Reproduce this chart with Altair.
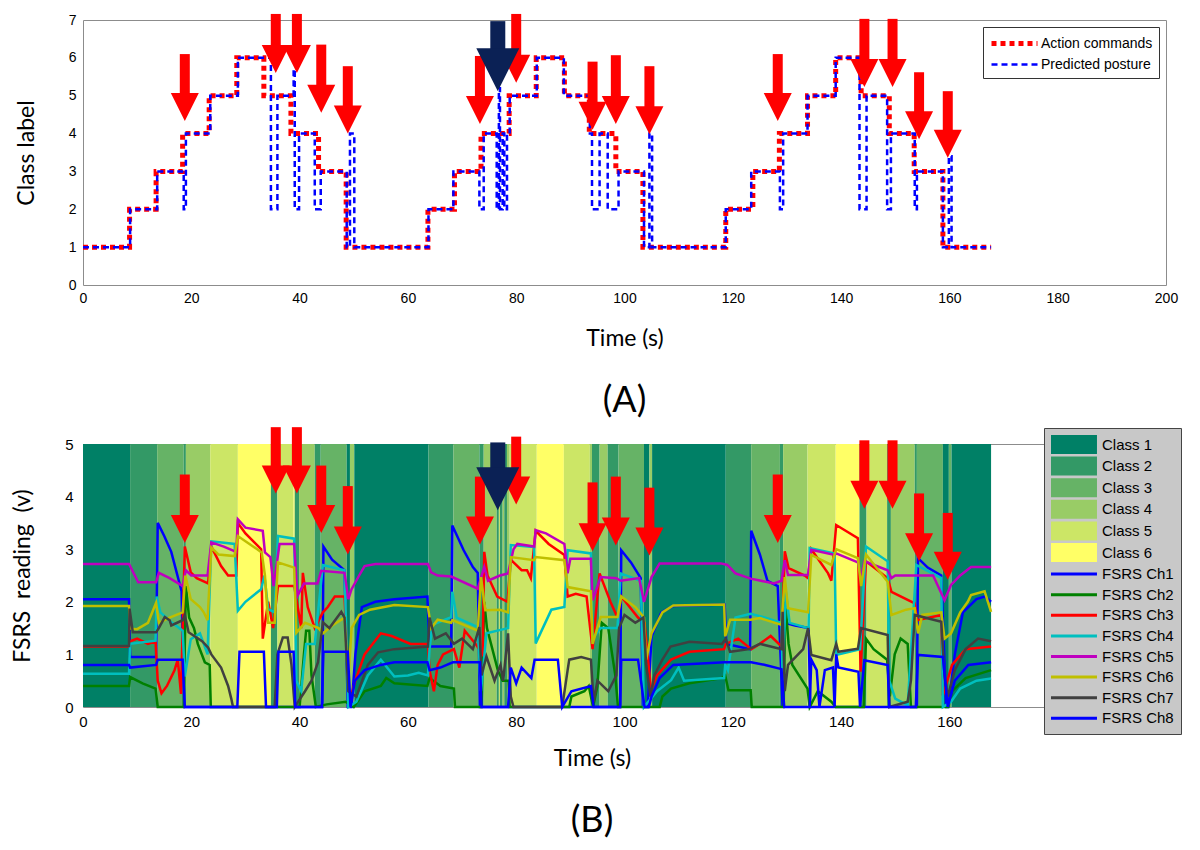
import altair as alt
import pandas as pd

# ---------------- data ----------------
# (A) action commands (step-after)
cmd_t = [0, 8.6, 13.5, 18.4, 23.3, 28.4, 33.4, 38.4, 43.5, 48.6, 63.7, 68.6, 73.5, 78.7, 83.7,
         88.9, 93.5, 98.4, 103.4, 118.7, 123.7, 128.6, 133.8, 139.0, 143.7, 148.9, 153.5, 158.8, 167.7]
cmd_v = [1, 2, 3, 4, 5, 6, 5, 4, 3, 1, 2, 3, 4, 5, 6, 5, 4, 3, 1, 2, 3, 4, 5, 6, 5, 4, 3, 1, 1]

# (A) predicted posture (step-after)
pred_t = [0, 8.7, 13.7, 18.6, 19.0, 23.5, 28.6, 34.7, 35.9, 38.9, 39.1, 39.9, 42.8, 43.9, 48.7, 49.3,
          50.1, 63.8, 68.4, 73.2, 74.0, 76.4, 76.8, 77.0, 77.5, 77.8, 78.3, 78.8, 83.8, 88.8, 93.6,
          94.0, 95.4, 96.9, 98.9, 103.6, 104.6, 105.1, 118.7, 123.4, 128.7, 129.3, 133.8, 139.0,
          143.4, 144.7, 148.5, 149.2, 153.6, 154.0, 158.8, 159.9, 160.4, 167.7]
pred_v = [1, 2, 3, 2, 4, 5, 6, 2, 5, 5.7, 2, 4, 2, 3, 1, 4,
          1, 2, 3, 2, 4, 2, 5.2, 2, 4, 2, 4, 5, 6, 5, 4,
          2, 4, 2, 3, 1, 4, 1, 2, 3, 2, 4, 5, 6,
          2, 5, 2, 4, 2, 3, 1, 3.4, 1, 1]

# arrows (time, tip and top in each panel's units)
arrow_t = [18.8, 35.6, 39.5, 44.0, 48.9, 73.3, 80.0, 94.1, 98.4, 104.6, 128.3, 144.3, 149.5, 154.4, 159.7]
arrow_tipA = [4.33, 5.6, 5.6, 4.55, 4.0, 4.25, 5.34, 4.1, 4.25, 3.98, 4.33, 5.23, 5.23, 3.85, 3.36]
arrow_topA = [6.1, 7.16, 7.16, 6.35, 5.78, 6.05, 7.16, 5.9, 6.07, 5.78, 6.1, 7.03, 7.03, 5.62, 5.12]
arrow_tipB = [3.12, 4.06, 4.06, 3.31, 2.9, 3.09, 3.85, 2.96, 3.07, 2.88, 3.12, 3.77, 3.77, 2.77, 2.42]
arrow_topB = [4.42, 5.32, 5.32, 4.59, 4.2, 4.38, 5.14, 4.27, 4.38, 4.17, 4.42, 5.07, 5.07, 4.06, 3.69]
navy_t = [76.6]
navy_tipA = [5.12]
navy_topA = [6.97]
navy_tipB = [3.74]
navy_topB = [5.03]

classes = ["Class 1", "Class 2", "Class 3", "Class 4", "Class 5", "Class 6"]
class_colors = ["#008066", "#339966", "#66B366", "#99CC66", "#CCE666", "#FFFF66"]
channels = ["FSRS Ch1", "FSRS Ch2", "FSRS Ch3", "FSRS Ch4", "FSRS Ch5", "FSRS Ch6", "FSRS Ch7", "FSRS Ch8"]
channel_colors = ["#0000FF", "#008000", "#FF0000", "#00BFBF", "#BF00BF", "#BFBF00", "#404040", "#0000FF"]

ch1 = [(0, 2.05), (8.5, 2.05), (8.7, 0.95), (13.5, 0.95), (13.8, 3.5), (15.0, 3.25), (16.3, 2.95), (18.2, 2.2),
       (18.7, 0.0), (44.2, 0.0), (44.4, 3.05), (46.0, 2.8), (48.3, 2.6), (48.9, 0.0), (49.6, 0.0), (50.3, 1.0),
       (51.5, 1.9), (54.0, 2.0), (57.5, 2.05), (63.6, 2.1), (64.0, 1.15), (68.0, 1.15), (68.2, 3.45), (70.3, 2.98),
       (72.0, 2.66), (72.9, 2.55), (73.3, 0.0), (99.2, 0.0), (99.4, 2.98), (101.2, 2.75), (103.0, 2.45),
       (103.4, 0.0), (104.3, 0.0), (105.0, 1.34), (106.8, 1.8), (109.0, 1.92), (118.5, 1.95), (118.8, 1.2),
       (123.2, 1.1), (123.4, 3.35), (125.0, 2.9), (126.4, 2.4), (128.3, 2.3), (129.2, 0.0), (129.6, 1.6),
       (131.5, 1.55), (134.0, 1.5), (134.3, 0.0), (154.0, 0.0), (154.2, 2.83), (156.0, 2.65), (158.5, 2.5),
       (159.4, 0.0), (159.8, 0.0), (161.0, 1.0), (162.5, 1.8), (165.0, 2.05), (166.5, 2.1), (167.7, 2.0)]
ch2 = [(0, 0.4), (8.5, 0.4), (8.7, 0.57), (11, 0.45), (13.4, 0.35), (13.8, 0), (18.6, 0), (19.0, 2.3), (19.6, 1.7),
       (20.5, 1.5), (21.2, 1.2), (22.5, 0.85), (23.4, 0.8), (23.6, 0), (40.0, 0), (40.8, 1.0), (41.2, 1.45),
       (41.8, 1.45), (42.2, 0.6), (43.0, 0), (45, 0.05), (48.5, 0.1), (50, 0), (52, 0.3), (55, 0.4), (56, 0.55),
       (57.5, 0.45), (63.6, 0.4), (64, 0.55), (66, 0.4), (68.5, 0.35), (68.7, 0), (73.6, 0), (74.1, 2.0),
       (74.6, 1.5), (76.6, 0.7), (77.5, 0.5), (78.6, 0.5), (78.8, 0), (89.8, 0), (90.2, 0.2), (92.6, 0.3),
       (93.4, 0.4), (94.2, 0), (95.0, 0.4), (95.8, 1.6), (97.0, 1.5), (98.3, 0.6), (98.8, 0), (106.5, 0),
       (107, 0.2), (108.6, 0.35), (112, 0.45), (118, 0.55), (118.6, 0.6), (119.2, 0.32), (123.3, 0.32),
       (123.5, 0), (129.4, 0), (129.7, 2.0), (130.3, 1.2), (131, 0.8), (133.8, 0.35), (134.2, 0), (135.7, 0.3),
       (138.2, 0.1), (139, 0), (144.2, 0), (144.6, 1.3), (146, 1.1), (148.5, 0.9), (149.0, 0.2), (149.9, 1.0),
       (151, 1.3), (152.3, 1.2), (152.9, 0), (159.8, 0), (160.5, 0.3), (163, 0.55), (167.7, 0.7)]
ch3 = [(0, 1.15), (8.5, 1.15), (8.7, 1.25), (10, 1.3), (12, 1.2), (13.4, 1.25), (13.8, 0.5), (14.5, 0.26),
       (15.5, 0.4), (16.9, 0.7), (17.5, 0.9), (18.1, 0.25), (18.8, 3.05), (19.9, 2.56), (21, 2.45), (23.1, 2.35),
       (23.7, 3.05), (25.5, 2.68), (26.8, 2.5), (28.3, 2.5), (28.6, 3.5), (30, 3.3), (32.9, 3.0), (33.2, 1.3),
       (34.2, 2.0), (35.1, 1.5), (36, 2.3), (39, 2.3), (39.5, 2.0), (40.3, 1.5), (40.6, 2.55), (41.5, 1.9),
       (42.8, 1.5), (44.3, 1.8), (45.2, 1.9), (46.5, 2.1), (48.3, 2.1), (49.2, 0.1), (50.3, 0.5), (52, 1.0),
       (55, 1.4), (57, 1.35), (60.5, 1.2), (63.7, 1.2), (64, 0.7), (64.8, 0.3), (65.5, 0.8), (66.5, 1.0),
       (68.5, 1.1), (69.5, 0.75), (70.5, 1.45), (72.5, 1.2), (73.8, 1.0), (74.1, 2.95), (74.7, 2.5), (76.5, 2.1),
       (78.4, 2.0), (79.0, 2.8), (81, 2.6), (82, 2.6), (82.7, 2.45), (83.6, 3.35), (86, 3.1), (88.9, 2.89),
       (89.5, 2.1), (91, 2.15), (93, 2.1), (94.1, 1.1), (95.4, 2.54), (97.4, 2.0), (98.7, 1.7), (99.4, 2.1),
       (102.5, 1.7), (103.7, 1.6), (104.9, 0.32), (106, 0.6), (108.6, 0.9), (112, 1.05), (118.4, 1.1),
       (118.7, 1.2), (121, 1.3), (123.4, 1.1), (125, 1.2), (127, 1.35), (129.0, 1.15), (129.6, 2.96),
       (130.3, 2.64), (133.3, 2.5), (133.9, 2.45), (134.5, 3.0), (137.6, 2.54), (138.2, 2.4), (139.1, 3.46),
       (143.1, 3.21), (143.6, 0.67), (144.6, 2.77), (148.6, 2.45), (149.3, 2.19), (153.6, 1.97), (154.0, 1.65),
       (158.5, 1.75), (158.8, 0.22), (160.5, 0.8), (163, 1.1), (167.7, 1.15)]
ch4 = [(0, 0.63), (8.5, 0.63), (8.7, 1.2), (13.4, 1.26), (13.6, 2.1), (14.3, 1.8), (16.5, 1.6), (18.4, 1.45),
       (18.8, 0.58), (19.9, 1.29), (21.6, 1.4), (23.0, 1.0), (23.7, 3.15), (28.0, 3.1), (28.6, 1.83), (30, 2.0),
       (32.9, 2.24), (33.5, 2.5), (34.2, 1.86), (35.4, 1.8), (36.0, 3.25), (39.0, 3.2), (39.4, 0.5), (40.3, 0.3),
       (41.2, 1.2), (42.8, 1.2), (44.3, 2.7), (48.3, 2.6), (49.0, 0.0), (50.5, 0.1), (52.6, 0.6), (55, 0.9),
       (57.5, 0.58), (60, 0.6), (62, 0.65), (63.7, 0.6), (64.0, 1.1), (64.5, 1.56), (68.0, 1.71), (68.2, 2.19),
       (69, 1.7), (72.9, 1.52), (73.5, 0.3), (74.5, 1.4), (78.5, 1.5), (79.0, 3.08), (83.3, 3.04), (83.6, 1.21),
       (86.5, 1.85), (88.9, 1.9), (89.5, 2.98), (93.8, 2.92), (94.1, 1.3), (95.6, 1.5), (98.7, 1.5), (99.3, 2.54),
       (103.0, 2.4), (103.6, 0.0), (106, 0.3), (108.6, 0.51), (110, 0.75), (111, 0.5), (118.4, 0.55),
       (118.6, 0.8), (119.1, 0.7), (120.5, 1.7), (123.3, 1.77), (126, 1.7), (129, 1.6), (129.2, 0.5),
       (129.8, 2.2), (130.5, 1.6), (134, 1.5), (134.2, 3.02), (138.8, 2.92), (139.1, 0.99), (143.5, 1.1),
       (144.6, 3.05), (148.6, 2.77), (148.9, 0.5), (150, 0.16), (152.3, 0.03), (153.9, 2.7), (158.5, 2.45),
       (158.8, 0.0), (160.3, 0.1), (162, 0.35), (165, 0.5), (167.7, 0.54)]
ch5 = [(0, 2.72), (8.5, 2.72), (10.2, 2.37), (13.5, 2.37), (14, 2.55), (16, 2.45), (18.4, 2.3), (19.0, 2.6),
       (20, 2.5), (23, 2.5), (23.7, 3.13), (26, 3.05), (28.3, 2.95), (28.6, 3.57), (30, 3.41), (33.2, 3.35),
       (33.6, 2.94), (34.6, 2.85), (35.2, 2.3), (36.3, 3.1), (39.0, 3.1), (39.6, 2.11), (40.8, 2.35),
       (43.3, 2.35), (44.0, 2.59), (48.3, 2.55), (49.0, 2.05), (49.6, 2.24), (51, 2.5), (52, 2.68), (54, 2.72),
       (63.7, 2.72), (64.3, 2.56), (65.5, 2.5), (68, 2.48), (72.9, 2.25), (74.1, 2.66), (74.8, 2.4), (77, 2.5),
       (78.5, 2.54), (79.5, 3.0), (80.2, 3.1), (83.3, 3.05), (83.6, 3.36), (85.5, 3.3), (88.9, 3.1),
       (89.5, 2.54), (90, 2.82), (93.8, 2.82), (94.1, 2.03), (95.6, 2.47), (98.5, 2.45), (99.3, 2.4),
       (102.7, 2.45), (103.6, 2.0), (105, 2.47), (106.5, 2.73), (117.8, 2.73), (119, 2.7), (120.5, 2.54),
       (123.3, 2.44), (127.6, 2.35), (129.0, 2.4), (129.6, 2.79), (130.2, 2.51), (133.9, 2.51), (134.5, 2.99),
       (138.8, 2.89), (139.1, 2.92), (143.1, 2.75), (143.7, 2.45), (144.3, 2.77), (148.6, 2.6), (149.3, 2.45),
       (150, 2.5), (157, 2.5), (159.1, 2.03), (160.3, 2.32), (162, 2.5), (164, 2.66), (167.7, 2.66)]
ch6 = [(0, 1.92), (8.5, 1.92), (8.7, 1.49), (10, 1.48), (12, 1.6), (13.5, 1.98), (14, 1.6), (16, 1.7),
       (18.4, 1.8), (18.9, 2.5), (19.9, 2.05), (21.6, 1.9), (22.3, 1.8), (23.0, 1.65), (23.7, 3.03), (25, 2.9),
       (28.0, 2.87), (28.6, 3.25), (33.0, 2.94), (33.6, 2.5), (34.2, 1.6), (35.4, 1.6), (36.0, 2.75),
       (39.0, 2.65), (39.4, 1.41), (41, 1.6), (43.5, 1.5), (44.3, 1.4), (46, 1.55), (48.3, 1.7), (49.0, 0.5),
       (49.6, 1.5), (51, 1.75), (53, 1.85), (57.5, 1.94), (63.7, 1.9), (64.3, 1.5), (65.5, 1.66), (68.0, 1.6),
       (68.2, 1.65), (72.9, 1.45), (73.5, 2.47), (74.3, 1.84), (77, 1.85), (78.5, 1.8), (79.0, 2.85),
       (83.3, 2.79), (83.6, 2.85), (88.9, 2.79), (89.5, 2.28), (93.8, 2.2), (94.1, 1.2), (95.6, 1.71),
       (98.7, 1.71), (99.4, 2.1), (102, 1.9), (103.6, 1.7), (104.0, 0.9), (105, 1.4), (107, 1.8), (109, 1.93),
       (118.4, 1.95), (118.6, 1.34), (119.5, 1.66), (123.3, 1.66), (125, 1.69), (129.0, 1.56), (129.6, 2.47),
       (130.2, 1.88), (133.9, 1.8), (134.5, 2.89), (138.2, 2.7), (139.1, 3.0), (143.1, 2.83), (143.7, 2.3),
       (144.6, 2.9), (148.6, 2.38), (149.3, 1.75), (152, 1.85), (153.6, 1.88), (154.2, 1.4), (155, 1.75),
       (158.5, 1.8), (159.1, 1.3), (160.3, 1.4), (162, 1.8), (163.4, 2.0), (164, 2.13), (166.5, 2.2),
       (167.7, 1.81)]
ch7 = [(0, 1.16), (8.5, 1.16), (8.6, 1.87), (9.2, 1.42), (13.5, 1.42), (14.0, 1.5), (15.1, 1.71), (16.0, 1.65),
       (16.3, 1.55), (18.4, 1.65), (18.8, 1.75), (19.5, 1.42), (22, 1.25), (23.1, 1.13), (23.7, 1.0),
       (25.5, 0.75), (26.8, 0.4), (27.4, 0.15), (27.7, 0), (35.4, 0), (35.9, 1.0), (36.9, 1.32), (37.8, 1.32),
       (38.5, 0.8), (39.1, 0), (41.0, 0.3), (42.2, 0.5), (43.4, 0.85), (44.3, 1.61), (45.5, 1.5), (47.7, 1.81),
       (48.3, 1.7), (49.0, 0.3), (50.5, 0.2), (52.6, 0.8), (54.5, 1.04), (57.5, 1.1), (63.7, 1.15), (64.0, 1.7),
       (65, 1.3), (67, 1.4), (68.5, 1.2), (70, 1.3), (72, 1.1), (73.2, 1.52), (73.6, 0.6), (74.5, 0.96),
       (76, 0.5), (77.1, 0.8), (77.6, 0.5), (78.5, 1.4), (79.0, 0.2), (79.5, 0), (88.5, 0), (89.5, 0.7),
       (89.8, 0.9), (92, 0.95), (93.8, 0.9), (94.3, 0.1), (95, 0.5), (97, 0.3), (98.5, 0.6), (99.0, 1.5),
       (100, 1.75), (102, 1.6), (103.5, 1.7), (104.0, 0.8), (104.8, 0.2), (105.5, 0.6), (107, 0.9),
       (108.5, 1.15), (112, 1.24), (118, 1.2), (118.7, 1.3), (119.5, 1.05), (123, 1.1), (125, 1.2),
       (129.0, 1.1), (129.2, 1.81), (129.6, 0.3), (130.2, 0.8), (133, 1.1), (133.9, 1.5), (134.5, 0.99),
       (138.2, 0.89), (139.1, 1.2), (139.5, 1.05), (143.1, 1.11), (143.7, 1.5), (148.6, 1.37), (148.9, 0),
       (152.3, 0.1), (152.9, 0.5), (153.6, 1.75), (158.5, 1.62), (159.1, 0.6), (159.7, 0.2), (161, 0.7),
       (163, 1.1), (165.3, 1.3), (167.7, 1.25)]
ch8 = [(0, 0.8), (8.5, 0.8), (8.7, 0.75), (13.5, 0.8), (13.8, 0.9), (18.4, 0.9), (18.8, 0), (28.5, 0),
       (28.9, 1.05), (33.4, 1.05), (33.8, 0), (35.8, 0), (36.1, 1.05), (38.9, 1.05), (39.2, 0), (44.1, 0),
       (44.4, 1.05), (48.9, 1.05), (49.4, 0), (50.2, 0.5), (52, 0.7), (55, 0.8), (57.5, 0.85), (63.6, 0.85),
       (64, 0.7), (66, 0.75), (68.3, 0.85), (73.3, 0.85), (73.6, 0), (78.5, 0), (79, 0.75), (80, 0.45),
       (81, 0.75), (82.8, 0.55), (83.4, 0.9), (87.7, 0.9), (88.5, 0), (90.2, 0.3), (93.8, 0.4), (94.3, 0),
       (99.2, 0), (99.4, 0.9), (102.5, 0.9), (103.7, 0), (104.5, 0), (105, 0.2), (106.5, 0.55), (109, 0.8),
       (118.5, 0.85), (123.4, 0.85), (126, 0.8), (129, 0.72), (129.5, 0), (134.2, 0), (134.5, 0.9),
       (135.5, 0.7), (136, 0), (137, 0.7), (138.5, 0.75), (138.8, 0), (139.1, 1.0), (139.5, 0.75),
       (143.2, 0.67), (143.5, 0), (144.3, 0.89), (148.6, 0.8), (148.9, 0), (153.8, 0), (154.2, 0.99),
       (158.8, 0.95), (159.7, 0), (161, 0.5), (163.5, 0.8), (167.7, 0.85)]
channel_data = [ch1, ch2, ch3, ch4, ch5, ch6, ch7, ch8]

# ---------------- frames ----------------
top_series = ["Action commands", "Predicted posture"]
cmd_df = pd.DataFrame({"t": cmd_t, "v": cmd_v, "series": top_series[0]})
pred_df = pd.DataFrame({"t": pred_t, "v": pred_v, "series": top_series[1]})

band_df = pd.DataFrame({
    "start": pred_t[:-1],
    "end": pred_t[1:],
    "name": [classes[int(round(v)) - 1] for v in pred_v[:-1]],
    "lo": 0, "hi": 5,
})

rows = []
for name, pts in zip(channels, channel_data):
    for i, (t, v) in enumerate(pts):
        rows.append({"name": name, "t": t, "v": v, "idx": i})
lines_df = pd.DataFrame(rows)

HEAD_PATH = "M -1 -2 L 1 -2 L 0 0 Z"
arrA = pd.DataFrame({"t": arrow_t, "tip": arrow_tipA, "top": arrow_topA})
arrA["base"] = arrA["tip"] + 0.4
arrB = pd.DataFrame({"t": arrow_t, "tip": arrow_tipB, "top": arrow_topB})
arrB["base"] = arrB["tip"] + 0.29
navA = pd.DataFrame({"t": navy_t, "tip": navy_tipA, "top": navy_topA})
navA["base"] = navA["tip"] + 0.55
navB = pd.DataFrame({"t": navy_t, "tip": navy_tipB, "top": navy_topB})
navB["base"] = navB["tip"] + 0.4

RED = "#FF0000"
NAVY = "#0B2155"
LBL = "Liberation Sans"
TTL = "Lato"
NB = "\u00a0"

# ---------------- panel A ----------------
xA = alt.Scale(domain=[0, 200], nice=False, zero=False)
yA = alt.Scale(domain=[0, 7], nice=False, zero=False)
xaxisA = alt.Axis(values=list(range(0, 201, 20)), title="Time (s)", grid=False, ticks=False, domain=False,
                  labelFont=LBL, labelFontSize=14, labelColor="black", labelPadding=6, labelFlush=False,
                  titleFont=TTL, titleFontSize=23, titleFontWeight="normal", titleColor="black", titlePadding=22)
yaxisA = alt.Axis(values=list(range(0, 8)), title="Class label", grid=False, ticks=False, domain=False,
                  labelFont=LBL, labelFontSize=14, labelColor="black", labelPadding=7,
                  titleFont=TTL, titleFontSize=23, titleFontWeight="normal", titleColor="black", titlePadding=30)
legA = alt.Legend(title=None, orient="top-right", offset=7, padding=6, fillColor="white", strokeColor="#333333",
                  symbolType="M -1 0 L 4.75 0", symbolSize=256, labelFont=LBL, labelFontSize=14,
                  labelColor="black", rowPadding=1, labelOffset=31)
encA = dict(
    x=alt.X("t:Q", scale=xA, axis=xaxisA),
    y=alt.Y("v:Q", scale=yA, axis=yaxisA),
    color=alt.Color("series:N", scale=alt.Scale(domain=top_series, range=[RED, "#0000FF"]), legend=legA),
    strokeDash=alt.StrokeDash("series:N", scale=alt.Scale(domain=top_series, range=[[5, 4], [6, 4]]), legend=legA),
    strokeWidth=alt.StrokeWidth("series:N", scale=alt.Scale(domain=top_series, range=[5, 2.5]), legend=legA),
)
red_line = alt.Chart(cmd_df).mark_line(interpolate="step-after").encode(**encA)
blue_line = alt.Chart(pred_df).mark_line(interpolate="step-after").encode(**encA)


def arrows(df, xs, ys, xax, yax, color, shaft_w, head_size):
    shaft = alt.Chart(df).mark_rule(color=color, strokeWidth=shaft_w).encode(
        x=alt.X("t:Q", scale=xs, axis=xax), y=alt.Y("top:Q", scale=ys, axis=yax), y2="base:Q")
    head = alt.Chart(df).mark_point(shape=HEAD_PATH, size=head_size, filled=True, color=color, opacity=1,
                                    strokeWidth=0).encode(
        x=alt.X("t:Q", scale=xs, axis=xax), y=alt.Y("tip:Q", scale=ys, axis=yax))
    return shaft + head


panelA = alt.layer(
    red_line, blue_line,
    arrows(arrA, xA, yA, xaxisA, yaxisA, RED, 10, 784),
    arrows(navA, xA, yA, xaxisA, yaxisA, NAVY, 15, 1849),
).properties(
    width=1083, height=265,
    title=alt.TitleParams("(A)", orient="bottom", anchor="middle", frame="group", font=TTL, fontSize=36,
                          fontWeight="normal", color="black", offset=34),
)

# ---------------- panel B ----------------
xB = alt.Scale(domain=[0, 188], nice=False, zero=False)
yB = alt.Scale(domain=[0, 5], nice=False, zero=False)
xaxisB = alt.Axis(values=list(range(0, 161, 20)), title="Time (s)", grid=False, ticks=False, domain=False,
                  labelFont=LBL, labelFontSize=15, labelColor="black", labelPadding=7, labelFlush=False,
                  titleFont=TTL, titleFontSize=23, titleFontWeight="normal", titleColor="black", titlePadding=18)
yaxisB = alt.Axis(values=list(range(0, 6)), title="FSRS" + NB * 2 + "reading" + NB * 2 + "(v)",
                  grid=False, ticks=False, domain=False,
                  labelFont=LBL, labelFontSize=15, labelColor="black", labelPadding=10,
                  titleFont=TTL, titleFontSize=23, titleFontWeight="normal", titleColor="black", titlePadding=30)

all_names = classes + channels
all_colors = class_colors + channel_colors
RECT_SHAPE = "M -1 -1 L 3.84 -1 L 3.84 1 L -1 1 Z"
LINE_SHAPE = "M -1 -0.16 L 3.84 -0.16 L 3.84 0.16 L -1 0.16 Z"
all_shapes = [RECT_SHAPE] * len(classes) + [LINE_SHAPE] * len(channels)

legB = alt.Legend(title=None, orient="none", legendX=961, legendY=-16, padding=7, fillColor="#C8C8C8",
                  strokeColor="#444444", symbolSize=361, symbolOpacity=1, symbolStrokeWidth=0,
                  labelFont=LBL, labelFontSize=15, labelColor="black", rowPadding=2.6, labelOffset=32,
                  labelLimit=300)

bands = alt.Chart(band_df).mark_rect(strokeWidth=0).encode(
    x=alt.X("start:Q", scale=xB, axis=xaxisB), x2="end:Q",
    y=alt.Y("lo:Q", scale=yB, axis=yaxisB), y2="hi:Q",
    fill=alt.Fill("name:N", scale=alt.Scale(domain=classes, range=class_colors), legend=None),
)
sensor = alt.Chart(lines_df).mark_line(strokeWidth=2.5).encode(
    x=alt.X("t:Q", scale=xB, axis=xaxisB),
    y=alt.Y("v:Q", scale=yB, axis=yaxisB),
    stroke=alt.Stroke("name:N", scale=alt.Scale(domain=channels, range=channel_colors), legend=None),
    order=alt.Order("idx:Q"),
)
legend_layer = alt.Chart(pd.DataFrame({"name": all_names})).mark_point(filled=True, opacity=0, size=1).encode(
    color=alt.Color("name:N", scale=alt.Scale(domain=all_names, range=all_colors), legend=legB),
    shape=alt.Shape("name:N", scale=alt.Scale(domain=all_names, range=all_shapes), legend=legB),
)

panelB = alt.layer(
    bands, sensor,
    arrows(arrB, xB, yB, xaxisB, yaxisB, RED, 10, 784),
    arrows(navB, xB, yB, xaxisB, yaxisB, NAVY, 15, 1849),
    legend_layer,
).properties(
    width=1018, height=263,
    title=alt.TitleParams("(B)", orient="bottom", anchor="middle", frame="group", font=TTL, fontSize=36,
                          fontWeight="normal", color="black", offset=34),
)

chart = alt.vconcat(panelA, panelB, spacing=1).resolve_scale(
    x="independent", y="independent", color="independent", shape="independent",
    strokeDash="independent", strokeWidth="independent", fill="independent", stroke="independent",
).configure_view(stroke="#8C8C8C", strokeWidth=1).properties(
    padding={"left": 3, "top": 0, "right": 5, "bottom": 3}, background="white",
)

chart.save("out.html", embed_options={"renderer": "svg", "actions": False})
